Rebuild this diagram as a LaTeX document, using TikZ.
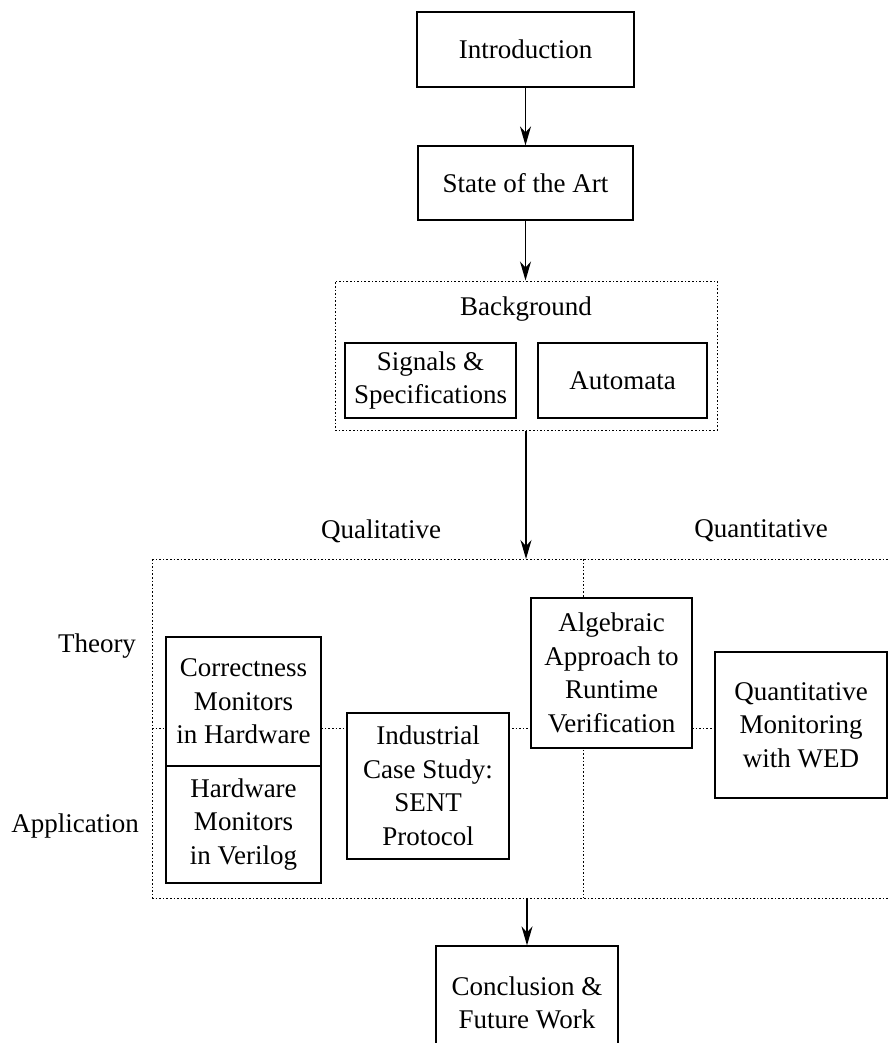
\documentclass[tikz,border=0pt]{standalone}
\usepackage{fontspec}
\setmainfont{Liberation Serif}
\usetikzlibrary{arrows.meta}
\begin{document}
\begin{tikzpicture}[x=1pt,y=-1pt,
  font=\fontsize{27}{33.5}\selectfont,
  box/.style={draw, line width=1.2pt, fill=white, align=center, inner sep=0pt},
  frame/.style={draw, line width=1pt, dash pattern=on 1.6pt off 2pt},
  arr/.style={line width=1.3pt, -{Stealth[length=19pt,width=11pt,inset=6pt]}},
  lbl/.style={inner sep=0pt, align=center}]
\useasboundingbox (0,0) rectangle (888,1043);
% dotted region and dividers
\draw[frame] (152,559) -- (888,559);
\draw[frame] (152,898) -- (888,898);
\draw[frame] (152,559) -- (152,898);
\draw[frame] (583,559) -- (583,898);
\draw[frame] (152,728) -- (888,728);
\coordinate (regtop) at (526,559);
\coordinate (regbot) at (527,898);
% top chain
\node[box, minimum width=217pt, minimum height=75pt] (intro) at (525.5,49.5) {Introduction};
\node[box, minimum width=215pt, minimum height=74pt] (state) at (525.5,183) {State of the Art};
\node[frame, minimum width=382pt, minimum height=149pt, inner sep=0pt] (bg) at (526,355.5) {};
\node[lbl] (bgtitle) at (526,309) {Background};
\node[box, minimum width=171pt, minimum height=75pt] (signals) at (430.5,380.5) {Signals \&\\Specifications};
\node[box, minimum width=169pt, minimum height=75pt] (automata) at (622.5,380.5) {Automata};
% labels
\node[lbl] (qual) at (381,531) {Qualitative};
\node[lbl] (quant) at (761,531) {Quantitative};
\node[lbl] (theory) at (97,646) {Theory};
\node[lbl] (appl) at (75,826) {Application};
% inner boxes
\node[box, minimum width=155pt, minimum height=129pt] (correct) at (243.5,701.5) {Correctness\\Monitors\\in Hardware};
\node[box, minimum width=155pt, minimum height=117pt] (hwmon) at (243.5,824.5) {Hardware\\Monitors\\in Verilog};
\node[box, minimum width=162pt, minimum height=146pt] (sent) at (428,786) {Industrial\\Case Study:\\SENT\\Protocol};
\node[box, minimum width=161pt, minimum height=150pt] (alg) at (611.5,673) {Algebraic\\Approach to\\Runtime\\Verification};
\node[box, minimum width=172pt, minimum height=146pt] (wed) at (801,725) {Quantitative\\Monitoring\\with WED};
\node[box, minimum width=182pt, minimum height=114pt] (concl) at (527,1003) {Conclusion \&\\Future Work};
% arrows
\draw[arr] (intro) -- (state);
\draw[arr] (state.south) -- (state.south |- bg.north);
\draw[arr] (bg) -- (regtop);
\draw[arr] (regbot) -- (concl);
\end{tikzpicture}
\end{document}
